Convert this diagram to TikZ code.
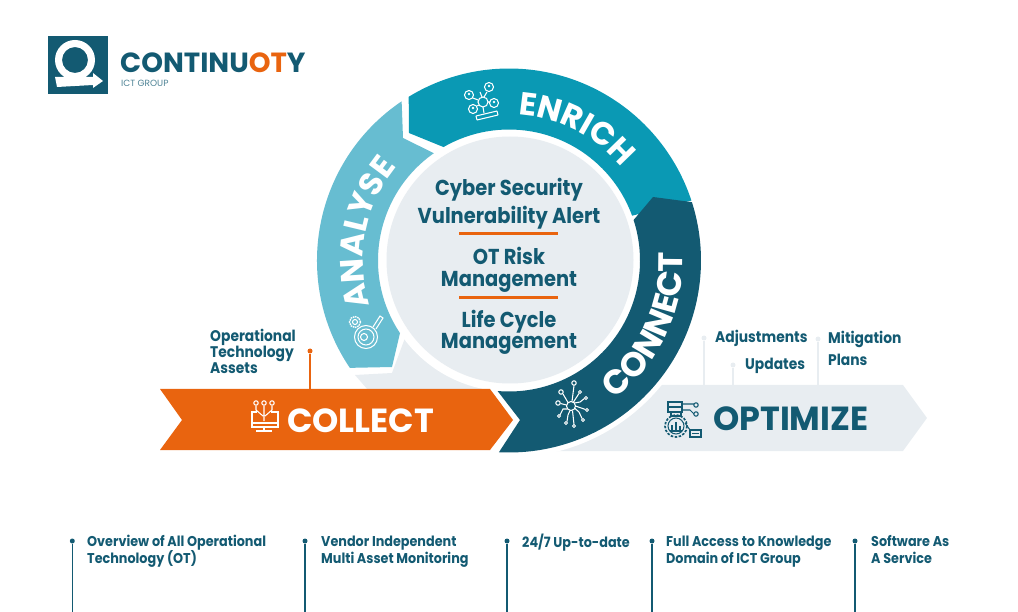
\documentclass[tikz,border=0pt]{standalone}
\usepackage{fontspec}
\usetikzlibrary{calc,decorations.text}
\newfontfamily\pop{Poppins}
\newfontfamily\popn[FakeStretch=0.9]{Poppins}
\definecolor{dteal}{HTML}{135A72}
\definecolor{oran}{HTML}{E9640F}
\definecolor{enr}{HTML}{0A99B4}
\definecolor{ana}{HTML}{67BDD1}
\definecolor{lgray}{HTML}{E8EDF1}
\newcommand{\fs}[2]{\fontsize{#1}{#2}\selectfont}
\tikzset{
  lab/.style={anchor=base west,inner sep=0pt,text=dteal,font=\popn\bfseries\fs{14.2}{17}},
  up/.style={anchor=base west,inner sep=0pt,text=dteal,font=\popn\bfseries\fs{15.4}{16},align=left},
  mid/.style={inner sep=0pt,text=dteal,align=center},
  big/.style={anchor=base west,inner sep=0pt,font=\pop\bfseries\fs{33.4}{34}},
  ico/.style={draw=white,line width=1.05pt,fill=none},
  icod/.style={draw=dteal,line width=1.05pt,fill=none},
  dot/.style={circle,fill=dteal,inner sep=0pt,minimum size=5pt},
  bar/.style={draw=dteal,line width=1.3pt},
  ldot/.style={circle,fill=lgray,inner sep=0pt,minimum size=5pt},
  lbar/.style={draw=lgray,line width=1.5pt},
  rule/.style={draw=oran,line width=3pt},
}
\begin{document}
\begin{tikzpicture}[x=1pt,y=-1pt]
\useasboundingbox (0,0) rectangle (1018,612);
\coordinate (c) at (509,260.5);
% optimize arrow
\fill[lgray] (540,385) -- (903,385) -- (927,418) -- (903,451) -- (540,451) -- cycle;
\fill[white] (c) circle[radius=197];
% tail under analyse
\fill[lgray] (355,375) -- (392,373) -- (405,338) -- (490,338) -- (490,390) -- (368,390) -- cycle;
\fill[white] (c) circle[radius=131];
\fill[lgray] (510,260) circle[radius=123.5];
% ring segments
\fill[ana] ($(c)+(-124:192)$) arc[start angle=-124,end angle=-214,radius=192] -- (392,367) -- (400,333) -- ($(c)+(-213.6:131)$) arc[start angle=-213.6,end angle=-125,radius=131] -- (403,138) -- cycle;
\fill[enr] ($(c)+(-121.5:192)$) arc[start angle=-121.5,end angle=-18.2,radius=192] -- ($(c)+(-20:131)$) arc[start angle=-20,end angle=-120,radius=131] -- (409,133) -- cycle;
\fill[dteal] (653,197) -- ($(c)+(-17.7:192)$) arc[start angle=-17.7,end angle=93,radius=192] -- (520,420) -- ($(c)+(95:131)$) arc[start angle=95,end angle=-18,radius=131] -- cycle;
% collect
\fill[oran] (160,389) -- (490,389) -- (513,420) -- (490,450) -- (160,450) -- (182,420) -- cycle;
% curved labels
\path[decorate,decoration={text along path,text align=center,text={|\pop\bfseries\fs{32}{32}\color{white}|ENRICH}}] ($(c)+(-103:146)$) arc[start angle=-103,end angle=-23,radius=146];
\path[decorate,decoration={text along path,text align=center,text={|\pop\bfseries\fs{32.5}{32}\color{white}|ANALYSE}}] ($(c)+(-214:146)$) arc[start angle=-214,end angle=-124,radius=146];
\path[decorate,decoration={text along path,text align=center,text={|\pop\bfseries\fs{34}{34}\color{white}|CONNECT}}] ($(c)+(70:174)$) arc[start angle=70,end angle=-20,radius=174];
% centre text
\node[mid,font=\popn\bfseries\fs{21.6}{28}] (t1) at (509,204) {Cyber Security\\Vulnerability Alert};
\node[mid,font=\popn\bfseries\fs{21.6}{22}] (t2) at (509,270) {OT Risk\\Management};
\node[mid,font=\popn\bfseries\fs{21.6}{21.5}] (t3) at (509,332.5) {Life Cycle\\Management};
\draw[rule] (459,233.7) -- (558,233.7);
\draw[rule] (459,297.7) -- (558,297.7);
% big labels
\node[big,text=white] (coll) at (287,432) {COLLECT};
\node[big,text=dteal] (opti) at (713,431) {OPTIMIZE};
% operational
\node[up,anchor=north west,font=\popn\bfseries\fs{15.4}{16}] (ota) at (210,328.5) {Operational\\Technology\\Assets};
\node[circle,fill=oran,inner sep=0pt,minimum size=5pt] (od) at (310,351) {};
\coordinate (oe) at (310,389);
\draw[draw=oran,line width=1.4pt] (od) -- (oe);
% optimize labels
\node[up] (ad) at (715,343) {Adjustments};
\node[up] (ud) at (745,370) {Updates};
\node[up] (mi) at (828,344) {Mitigation};
\node[up] (pl) at (828,366) {Plans};
\node[ldot] (d1) at (704,338) {}; \coordinate (e1) at (704,385); \draw[lbar] (d1) -- (e1);
\node[ldot] (d2) at (733,365) {}; \coordinate (e2) at (733,385); \draw[lbar] (d2) -- (e2);
\node[ldot] (d3) at (818,339) {}; \coordinate (e3) at (818,385); \draw[lbar] (d3) -- (e3);
% bottom columns
\foreach \n/\x in {a/72.3,b/305,c/507,d/652,e/855}{
  \node[dot] (b\n) at (\x,541) {};
  \coordinate (f\n) at (\x,612);
  \draw[bar] (b\n) -- (f\n);
}
\node[lab] (l1) at (87,546) {Overview of All Operational};
\node[lab] (l2) at (87,563) {Technology (OT)};
\node[lab] (l3) at (321,546) {Vendor Independent};
\node[lab] (l4) at (321,563) {Multi Asset Monitoring};
\node[lab] (l5) at (522,547) {24/7 Up-to-date};
\node[lab] (l6) at (666,546) {Full Access to Knowledge};
\node[lab] (l7) at (666,563) {Domain of ICT Group};
\node[lab] (l8) at (871,546) {Software As};
\node[lab] (l9) at (871,563) {A Service};
% logo
\fill[dteal] (48,36) rectangle (108,94);
\fill[white,even odd rule] (75,60) circle[radius=20] (75,60) circle[radius=13];
\fill[white] (55,77) -- (74,77) -- (93,77) -- (93,73) -- (103,81) -- (93,88) -- (93,85) -- (57,87) -- cycle;
\node[anchor=base west,inner sep=0pt,font=\pop\bfseries\fs{27.7}{28}] (lg) at (120,73) {\textcolor{dteal}{CONTINU}\textcolor{oran}{OT}\textcolor{dteal}{Y}};
\node[anchor=base west,inner sep=0pt,text=dteal!75,font=\pop\fs{9}{9}] (ict) at (121,87) {ICT GROUP};
% icon: collect
\draw[ico] (256,403) circle[radius=2.2] (264,403) circle[radius=2.2] (272,403) circle[radius=2.2];
\draw[ico] (257,412) -- (252,412) -- (252,427) -- (278,427) -- (278,412) -- (271,412);
\draw[ico] (252,423) -- (278,423) (256,431) -- (272,431) (264,427) -- (264,431);
\draw[ico] (256,406) -- (256,410) -- (263,416) (264,406) -- (264,421) (272,406) -- (272,410) -- (265,416);
% icon: optimize
\draw[icod] (668,402) rectangle (682,407) (668,407) rectangle (682,412);
\draw[icod] (671,412) rectangle (681,416);
\draw[icod] (682,404) -- (694,404) (682,410) -- (690,410) -- (694,414);
\draw[icod] (696,405) circle[radius=2.2] (696,414) circle[radius=2.2];
\draw[icod,line width=1.7pt,dash pattern=on 2.5pt off 1.5pt] (676,426) circle[radius=11];
\draw[icod] (676,426) circle[radius=8];
\draw[icod] (672,430) -- (672,425) (676,430) -- (676,422) (680,430) -- (680,426) (670,431) -- (682,431);
\draw[icod] (685,423) -- (690,430);
\draw[icod] (690,430) rectangle (701,437) (692,433.5) -- (699,433.5);
% icon: enrich
\draw[ico] (469,95) circle[radius=4.5] (489,87) circle[radius=4.5] (494,103) circle[radius=4.5] (473,109) circle[radius=4.5];
\fill[white] (469,94) circle[radius=1.4] (489,86) circle[radius=1.4] (494,102) circle[radius=1.4] (473,108) circle[radius=1.4];
\draw[ico] (483,102) circle[radius=5];
\draw[ico] (473,98) -- (478,100) (487,92) -- (484,97) (490,102) -- (488,102) (477,106) -- (479,105);
\draw[ico] (480,92) -- (482,97) (483,107) -- (484,113);
\draw[ico] (476,116) -- (497,111) (477,120) -- (498,115) (476,116) -- (477,120) (497,111) -- (498,115);
% icon: analyse
\draw[ico,dash pattern=on 1.5pt off 0.8pt,line width=1.4pt] (355,322) circle[radius=5.5];
\draw[ico] (355,322) circle[radius=2.5];
\draw[ico] (366,337) circle[radius=11.5];
\draw[ico] (366,337) circle[radius=8];
\draw[ico] (364,337) circle[radius=3.5];
\draw[ico] (373,327) -- (380,316) -- (383,318) -- (376,329);
% icon: connect
\draw[ico] (571,406) circle[radius=4.5];
\draw[ico] (574,383) circle[radius=2.2] (561,392) circle[radius=2.2] (558,403) circle[radius=2.2] (559,416) circle[radius=1.5] (566,423) circle[radius=1.5] (574,426) circle[radius=1.5] (583,420) circle[radius=1.5] (587,410) circle[radius=1.5] (586,398) circle[radius=1.5] (580,392) circle[radius=1.5];
\draw[ico] (572,401.5) -- (574,385.5) (568,402.5) -- (563,394) (566.5,405) -- (560.5,403.5) (567,409) -- (563,409) -- (560,415) (570,410.5) -- (568,415) -- (567,421.5) (572.5,410.5) -- (574,424.5) (575,408.5) -- (579,412) -- (582,418.5) (575.5,406) -- (585.5,409.5) (574.5,403) -- (580,402) -- (584.5,398.5) (573.5,402) -- (579,393.5);
\end{tikzpicture}
\end{document}
